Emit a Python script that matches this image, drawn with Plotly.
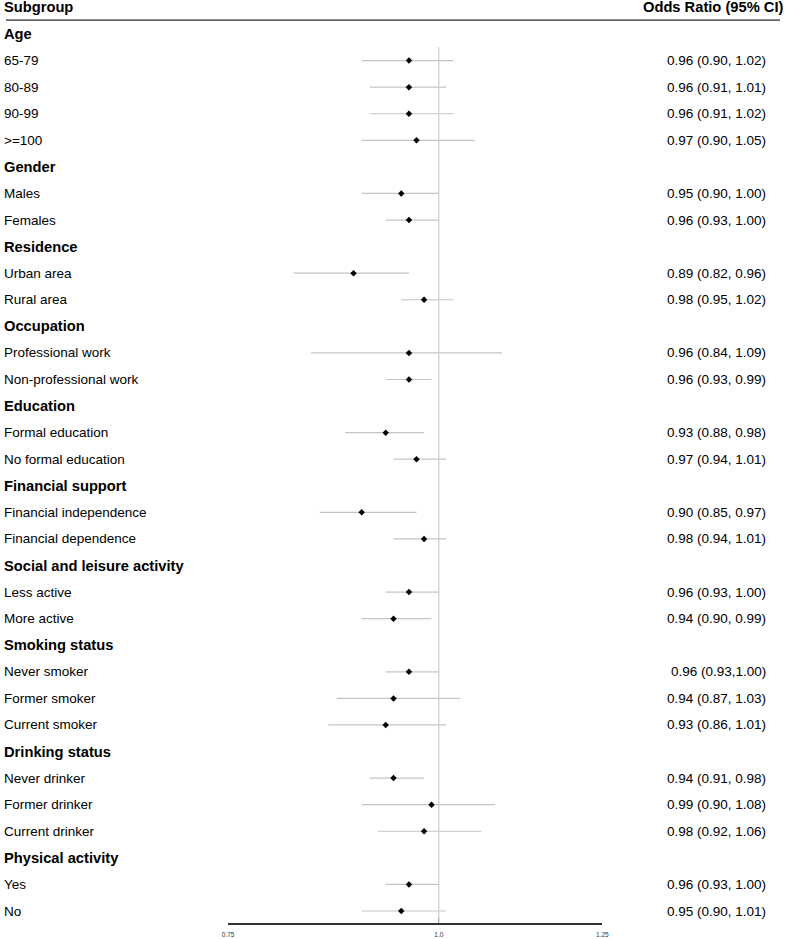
import plotly.graph_objects as go
import math

groups = [
    ("Age", ["65-79", "80-89", "90-99", ">=100"]),
    ("Gender", ["Males", "Females"]),
    ("Residence", ["Urban area", "Rural area"]),
    ("Occupation", ["Professional work", "Non-professional work"]),
    ("Education", ["Formal education", "No formal education"]),
    ("Financial support", ["Financial independence", "Financial dependence"]),
    ("Social and leisure activity", ["Less active", "More active"]),
    ("Smoking status", ["Never smoker", "Former smoker", "Current smoker"]),
    ("Drinking status", ["Never drinker", "Former drinker", "Current drinker"]),
    ("Physical activity", ["Yes", "No"]),
]

odds = [0.96, 0.96, 0.96, 0.97, 0.95, 0.96, 0.89, 0.98, 0.96, 0.96, 0.93, 0.97,
        0.90, 0.98, 0.96, 0.94, 0.96, 0.94, 0.93, 0.94, 0.99, 0.98, 0.96, 0.95]
lower = [0.90, 0.91, 0.91, 0.90, 0.90, 0.93, 0.82, 0.95, 0.84, 0.93, 0.88, 0.94,
         0.85, 0.94, 0.93, 0.90, 0.93, 0.87, 0.86, 0.91, 0.90, 0.92, 0.93, 0.90]
upper = [1.02, 1.01, 1.02, 1.05, 1.00, 1.00, 0.96, 1.02, 1.09, 0.99, 0.98, 1.01,
         0.97, 1.01, 1.00, 0.99, 1.00, 1.03, 1.01, 0.98, 1.08, 1.06, 1.00, 1.01]
or_text = ["0.96 (0.90, 1.02)", "0.96 (0.91, 1.01)", "0.96 (0.91, 1.02)", "0.97 (0.90, 1.05)",
           "0.95 (0.90, 1.00)", "0.96 (0.93, 1.00)", "0.89 (0.82, 0.96)", "0.98 (0.95, 1.02)",
           "0.96 (0.84, 1.09)", "0.96 (0.93, 0.99)", "0.93 (0.88, 0.98)", "0.97 (0.94, 1.01)",
           "0.90 (0.85, 0.97)", "0.98 (0.94, 1.01)", "0.96 (0.93, 1.00)", "0.94 (0.90, 0.99)",
           "0.96 (0.93,1.00)", "0.94 (0.87, 1.03)", "0.93 (0.86, 1.01)", "0.94 (0.91, 0.98)",
           "0.99 (0.90, 1.08)", "0.98 (0.92, 1.06)", "0.96 (0.93, 1.00)", "0.95 (0.90, 1.01)"]
tick_vals = [0.75, 1.0, 1.25]
tick_text = ["0.75", "1.0", "1.25"]

W, H = 787, 939
FONT = "Liberation Sans, Arial, sans-serif"


def px(x_img):
    # horizontal pixel position -> paper fraction (compensating render squeeze)
    return (x_img - 6.0) / 0.983 / W


# build row layout
rows = []  # (row_index, label, is_header, data_index)
r = 1
di = 0
for g, subs in groups:
    rows.append((r, g, True, None)); r += 1
    for s in subs:
        rows.append((r, s, False, di)); r += 1; di += 1
n_rows = r - 1

# pixel geometry
row_px0 = 34.0
row_step = (911.0 - 34.0) / (n_rows - 1)
axis_px = 923.0
top_val = 1 + (0 - row_px0) / row_step
bot_val = 1 + (axis_px - row_px0) / row_step

fig = go.Figure()

data_rows = [rw for rw in rows if not rw[2]]
ys = [rw[0] for rw in data_rows]

# CI lines
cx, cy = [], []
for (ri, lab, hdr, d) in data_rows:
    cx += [lower[d], upper[d], None]
    cy += [ri, ri, None]
fig.add_trace(go.Scatter(x=cx, y=cy, mode="lines",
                         line=dict(color="#c4c4c4", width=1.2),
                         hoverinfo="skip", showlegend=False))
fig.add_trace(go.Scatter(x=[odds[rw[3]] for rw in data_rows], y=ys, mode="markers",
                         marker=dict(symbol="diamond", size=5, color="black"),
                         showlegend=False))

HSIZE = 14.7
annots = []
annots.append(dict(x=px(2), y=0, xref="paper", yref="y", text="<b>Subgroup</b>",
                   showarrow=False, xanchor="left", yanchor="middle",
                   font=dict(family=FONT, size=HSIZE, color="black")))
annots.append(dict(x=px(785), y=0, xref="paper", yref="y", text="<b>Odds Ratio (95% CI)</b>",
                   showarrow=False, xanchor="right", yanchor="middle",
                   font=dict(family=FONT, size=HSIZE, color="black")))
for (ri, lab, hdr, d) in rows:
    if hdr:
        annots.append(dict(x=px(2), y=ri, xref="paper", yref="y", text="<b>%s</b>" % lab,
                           showarrow=False, xanchor="left", yanchor="middle",
                           font=dict(family=FONT, size=HSIZE, color="black")))
    else:
        annots.append(dict(x=px(2), y=ri, xref="paper", yref="y", text=lab,
                           showarrow=False, xanchor="left", yanchor="middle",
                           font=dict(family=FONT, size=13.5, color="black")))
        annots.append(dict(x=px(768), y=ri, xref="paper", yref="y", text=or_text[d],
                           showarrow=False, xanchor="right", yanchor="middle",
                           font=dict(family=FONT, size=13.5, color="black")))

shapes = [
    dict(type="line", xref="paper", yref="y", x0=0, x1=1, y0=0.48, y1=0.48,
         line=dict(color="#666666", width=1.8)),
    dict(type="line", xref="x", yref="y", x0=1.0, x1=1.0, y0=1.5, y1=bot_val,
         line=dict(color="#cccccc", width=1.2)),
]

fig.update_layout(
    width=W, height=H,
    margin=dict(l=0, r=0, t=0, b=0),
    paper_bgcolor="white", plot_bgcolor="white",
    annotations=annots, shapes=shapes,
    xaxis=dict(type="log", domain=[px(228), px(602)],
               range=[math.log10(0.75), math.log10(1.25)],
               tickvals=tick_vals, ticktext=tick_text,
               ticks="inside", ticklen=5, tickwidth=1.2, tickcolor="#333333",
               showline=True, linecolor="#333333", linewidth=1.5,
               showgrid=False, zeroline=False, ticklabelstandoff=4,
               tickfont=dict(family=FONT, size=6.5, color="#333333")),
    yaxis=dict(domain=[(H - axis_px) / H, 1], range=[bot_val, top_val],
               showticklabels=False, showgrid=False, zeroline=False,
               showline=False, ticks=""),
    showlegend=False,
)

fig.write_html("out.html", config={"displayModeBar": False},
               post_script="document.body.style.margin='0';document.body.style.padding='0';document.body.style.overflow='hidden';")
